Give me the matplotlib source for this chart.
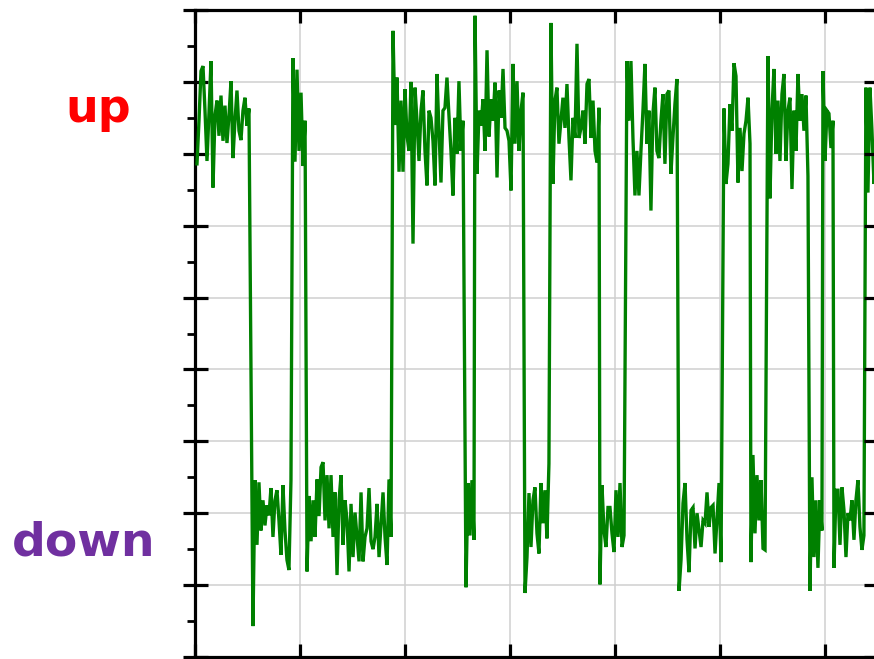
import numpy as np
import matplotlib
matplotlib.use("Agg")
import matplotlib.pyplot as plt
from matplotlib.ticker import MultipleLocator, NullFormatter

# ---- data (time in grid units, signal in grid units) ----
seg_start = [0.019, 0.552, 0.933, 1.067, 1.886, 2.581, 2.667, 3.143, 3.390, 3.857,
             4.114, 4.610, 5.038, 5.295, 5.457, 5.857, 5.981, 6.086, 6.390]
seg_end = [0.514, 0.914, 1.048, 1.867, 2.552, 2.657, 3.124, 3.371, 3.848, 4.086,
           4.590, 5.010, 5.286, 5.429, 5.838, 5.971, 6.076, 6.371, 6.486]

up1 = [6.86, 7.46, 8.15, 8.22, 7.60, 6.90, 7.57, 8.29, 6.53, 7.53, 7.74, 7.25, 7.81, 7.18,
       7.67, 7.15, 7.53, 8.01, 6.94, 7.46, 7.88, 7.32, 7.19, 7.60, 7.78, 7.39, 7.63]
down1 = [0.43, 2.46, 1.56, 2.43, 1.76, 2.18, 1.83, 2.11, 1.97, 2.35, 1.67, 2.18, 2.32, 1.90,
         1.42, 2.39, 1.76, 1.35, 1.21, 2.46]
up2 = [8.33, 6.89, 8.17, 7.04, 7.85, 6.83, 7.46]
down2 = [1.19, 2.24, 1.61, 2.18, 1.67, 2.47, 1.96, 2.64, 2.71, 1.90, 2.53, 1.79, 2.53, 1.67,
         2.29, 1.14, 2.18, 2.53, 1.56, 2.18, 1.90, 1.19, 2.13, 1.39, 2.01, 1.67, 1.33, 2.29,
         1.33, 1.67, 1.79, 2.35, 1.61, 1.50, 1.67, 2.13, 1.39, 1.85, 2.29, 1.67, 1.28, 2.47, 1.67]
up3 = [8.71, 7.40, 8.06, 6.75, 7.74, 6.75, 7.90, 7.25, 7.04, 8.00, 5.75, 7.92, 7.46, 6.90,
       7.60, 7.88, 7.04, 6.56, 7.60, 7.50, 7.18, 6.56, 8.11, 7.32, 6.60, 7.60, 7.64, 8.06,
       7.53, 7.04, 6.42, 7.50, 7.00, 8.01, 7.04, 7.46]
down3 = [0.97, 2.42, 1.69, 2.46, 1.63]
up4 = [8.92, 6.72, 7.60, 7.39, 7.76, 7.04, 8.44, 7.24, 7.76, 7.46, 7.99, 6.67, 7.88, 7.50,
       8.18, 7.36, 7.32, 7.18, 6.49, 8.25, 7.14, 8.01, 7.04, 7.60, 7.85]
down4 = [0.89, 1.39, 2.28, 1.53, 2.18, 2.36, 1.72, 1.44, 2.42, 1.86, 2.32, 1.65, 2.69]
up5 = [8.82, 6.58, 7.74, 7.92, 7.14, 7.46, 7.78, 7.36, 7.97, 7.22, 6.63, 7.50, 7.22, 8.53,
       7.22, 7.36, 7.60, 7.14, 7.97, 8.04, 7.22, 7.74, 7.04, 6.88, 7.64]
down5 = [1.01, 2.39, 1.76, 1.53, 2.08, 2.08, 1.72, 1.46, 2.32, 1.67, 2.42, 1.53, 1.69]
up6 = [8.29, 7.46, 8.29, 7.22, 6.42, 7.04, 6.42, 7.04, 7.60, 8.25, 7.14, 7.60, 6.21, 7.56,
       7.92, 7.04, 6.94, 7.46, 7.83, 6.86, 7.83, 7.88, 6.72, 7.22, 7.69, 8.04]
down6 = [0.92, 1.35, 2.14, 2.42, 1.63, 1.18, 2.04, 2.08, 1.51, 2.00, 1.76, 1.53, 1.90, 1.86,
         2.29, 1.81, 2.08, 2.11, 1.44, 1.94, 2.42, 1.32]
up7 = [7.63, 6.58, 6.86, 7.69, 7.32, 8.26, 8.08, 6.60, 7.36, 6.76, 7.28, 7.46, 7.78, 7.14]
down7 = [1.32, 2.81, 1.72, 2.53, 1.90, 2.46, 1.51, 1.49]
up8 = [8.36, 6.38, 7.60, 8.18, 7.00, 7.74, 6.90, 7.83, 8.11, 6.90, 7.60, 7.78, 6.51, 7.60,
       7.04, 8.11, 7.46, 7.83, 7.32, 7.81, 6.69]
down8 = [0.92, 2.50, 1.39, 2.18, 1.24, 2.18, 1.76]
up9 = [8.15, 6.90, 7.60, 7.56, 7.08, 7.46]
down9 = [1.24, 2.32, 2.32, 1.56, 2.36, 2.04, 1.39, 2.00, 1.90, 2.18, 1.63, 2.18, 2.46, 1.81,
         1.49, 1.69]
up10 = [7.92, 6.46, 7.92, 7.32, 6.58, 7.56]

segments = [up1, down1, up2, down2, up3, down3, up4, down4, up5, down5,
            up6, down6, up7, down7, up8, down8, up9, down9, up10]

labels = ["up", "down"]

# ---- build the trace ----
t_parts, y_parts = [], []
for s, e, vals in zip(seg_start, seg_end, segments):
    t_parts.append(np.linspace(s, e, len(vals)))
    y_parts.append(np.asarray(vals, dtype=float))
t = np.concatenate(t_parts)
y = np.concatenate(y_parts)

W, H = 874, 659
fig = plt.figure(figsize=(W / 100, H / 100), dpi=100)
ax = fig.add_axes([195 / W, 1 - 657 / H, (876 - 195) / W, 647 / H])

ax.plot(t, y, color="#008000", lw=2.4, solid_joinstyle="miter", zorder=3)

ax.set_xlim(0, 6.486)
ax.set_ylim(0, 9)
ax.xaxis.set_major_locator(MultipleLocator(1))
ax.yaxis.set_major_locator(MultipleLocator(1))
ax.yaxis.set_minor_locator(MultipleLocator(0.5))
ax.xaxis.set_major_formatter(NullFormatter())
ax.yaxis.set_major_formatter(NullFormatter())
ax.grid(True, which="major", color="#cfcfcf", lw=1.1, zorder=0)
ax.set_axisbelow(True)

for sp in ax.spines.values():
    sp.set_linewidth(2.3)
    sp.set_color("black")

ax.tick_params(axis="x", which="major", direction="in", top=True, bottom=True,
               length=9.5, width=2.3)
ax.tick_params(axis="y", which="major", direction="inout", left=True, right=False,
               length=18, width=2.3)
ax.tick_params(axis="y", which="minor", direction="out", left=True, right=False,
               length=6, width=2.0)

# right-side inward ticks
axr = ax.twinx()
axr.set_ylim(0, 9)
axr.yaxis.set_major_locator(MultipleLocator(1))
axr.yaxis.set_major_formatter(NullFormatter())
axr.tick_params(axis="y", which="major", direction="in", length=9, width=2.3)
for sp in axr.spines.values():
    sp.set_visible(False)

fig.text(98 / W, 1 - 122 / H, labels[0], color="#ff0000", fontsize=33,
         fontweight="bold", ha="center", va="baseline")
fig.text(84 / W, 1 - 556 / H, labels[1], color="#7030a0", fontsize=34,
         fontweight="bold", ha="center", va="baseline")

fig.savefig("out.png", dpi=100)
